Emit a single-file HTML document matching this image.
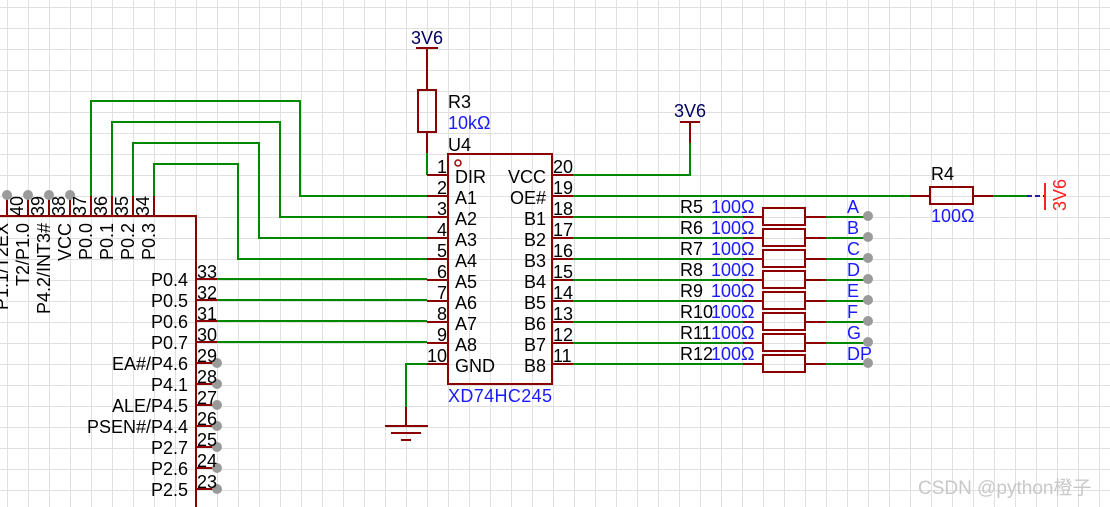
<!DOCTYPE html>
<html><head><meta charset="utf-8"><style>
html,body{margin:0;padding:0;background:#fff;}
svg{display:block;}
text{font-family:"Liberation Sans","Noto Sans CJK SC",sans-serif;}
</style></head><body>
<svg width="1110" height="507" viewBox="0 0 1110 507" xmlns="http://www.w3.org/2000/svg">
<defs>
<pattern id="g" x="7" y="7" width="21" height="21" patternUnits="userSpaceOnUse">
<path d="M0 0H21M0 0V21" stroke="#e0e0e0" stroke-width="2" fill="none"/>
</pattern>
</defs>
<rect width="1110" height="507" fill="url(#g)"/>

<!-- MCU body -->
<path d="M0 216H196V507" fill="none" stroke="#8b0000" stroke-width="2"/>
<g stroke="#8b0000" stroke-width="2">
<line x1="7" y1="196" x2="7" y2="216"/><line x1="28" y1="196" x2="28" y2="216"/>
<line x1="49" y1="196" x2="49" y2="216"/><line x1="70" y1="196" x2="70" y2="216"/>
<line x1="91" y1="196" x2="91" y2="216"/><line x1="112" y1="196" x2="112" y2="216"/>
<line x1="133" y1="196" x2="133" y2="216"/><line x1="154" y1="196" x2="154" y2="216"/>
</g>
<g fill="#9a9a9a"><circle cx="7" cy="195" r="5"/><circle cx="28" cy="195" r="5"/><circle cx="49" cy="195" r="5"/><circle cx="70" cy="195" r="5"/></g>
<g font-size="18" fill="#000">
<text transform="translate(23,216) rotate(-90)">40</text>
<text transform="translate(44,216) rotate(-90)">39</text>
<text transform="translate(65,216) rotate(-90)">38</text>
<text transform="translate(86,216) rotate(-90)">37</text>
<text transform="translate(107,216) rotate(-90)">36</text>
<text transform="translate(128,216) rotate(-90)">35</text>
<text transform="translate(149,216) rotate(-90)">34</text>
</g>
<g font-size="18" fill="#000" text-anchor="end">
<text transform="translate(8,223) rotate(-90)">P1.1/T2EX</text>
<text transform="translate(29,223) rotate(-90)">T2/P1.0</text>
<text transform="translate(50,223) rotate(-90)">P4.2/INT3#</text>
<text transform="translate(71,223) rotate(-90)">VCC</text>
<text transform="translate(92,223) rotate(-90)">P0.0</text>
<text transform="translate(113,223) rotate(-90)">P0.1</text>
<text transform="translate(134,223) rotate(-90)">P0.2</text>
<text transform="translate(155,223) rotate(-90)">P0.3</text>
</g>
<!-- right pins of MCU -->
<g stroke="#8b0000" stroke-width="2">
<line x1="196" y1="279" x2="217" y2="279"/><line x1="196" y1="300" x2="217" y2="300"/>
<line x1="196" y1="321" x2="217" y2="321"/><line x1="196" y1="342" x2="217" y2="342"/>
<line x1="196" y1="363" x2="217" y2="363"/><line x1="196" y1="384" x2="217" y2="384"/>
<line x1="196" y1="405" x2="217" y2="405"/><line x1="196" y1="426" x2="217" y2="426"/>
<line x1="196" y1="447" x2="217" y2="447"/><line x1="196" y1="468" x2="217" y2="468"/>
<line x1="196" y1="489" x2="217" y2="489"/>
</g>
<g fill="#9a9a9a"><circle cx="217" cy="363" r="5"/><circle cx="217" cy="384" r="5"/><circle cx="217" cy="405" r="5"/><circle cx="217" cy="426" r="5"/><circle cx="217" cy="447" r="5"/><circle cx="217" cy="468" r="5"/><circle cx="217" cy="489" r="5"/></g>
<g font-size="18" fill="#000">
<text x="197" y="278">33</text><text x="197" y="299">32</text><text x="197" y="320">31</text><text x="197" y="341">30</text>
<text x="197" y="362">29</text><text x="197" y="383">28</text><text x="197" y="404">27</text><text x="197" y="425">26</text>
<text x="197" y="446">25</text><text x="197" y="467">24</text><text x="197" y="488">23</text>
</g>
<g font-size="18" fill="#000" text-anchor="end">
<text x="188" y="286">P0.4</text><text x="188" y="307">P0.5</text><text x="188" y="328">P0.6</text><text x="188" y="349">P0.7</text>
<text x="188" y="370">EA#/P4.6</text><text x="188" y="391">P4.1</text><text x="188" y="412">ALE/P4.5</text><text x="188" y="433">PSEN#/P4.4</text>
<text x="188" y="454">P2.7</text><text x="188" y="475">P2.6</text><text x="188" y="496">P2.5</text>
</g>

<!-- green wires -->
<g stroke="#008800" stroke-width="2" fill="none">
<path d="M91 196V101H300V196H427"/>
<path d="M112 196V122H280V217H427"/>
<path d="M133 196V143H259V238H427"/>
<path d="M154 196V164H238V259H427"/>
<path d="M217 279H427M217 300H427M217 321H427M217 342H427"/>
<path d="M427 153V175"/>
<path d="M573 175H690V143"/>
<path d="M573 196H910M993 196H1027"/>
<path d="M427 364H406V407"/>
<path d="M573 217H743M573 238H743M573 259H743M573 280H743M573 301H743M573 322H743M573 343H743M573 364H743"/>
<path d="M826 217H868M826 238H868M826 259H868M826 280H868M826 301H868M826 322H868M826 343H868M826 364H868"/>
</g>

<!-- U4 -->
<rect x="448" y="154" width="104" height="230" fill="none" stroke="#8b0000" stroke-width="2"/>
<circle cx="458" cy="163" r="3" fill="none" stroke="#a00" stroke-width="1.5"/>
<g stroke="#8b0000" stroke-width="2">
<path d="M427 175H448M427 196H448M427 217H448M427 238H448M427 259H448M427 280H448M427 301H448M427 322H448M427 343H448M427 364H448"/>
<path d="M552 175H573M552 196H573M552 217H573M552 238H573M552 259H573M552 280H573M552 301H573M552 322H573M552 343H573M552 364H573"/>
</g>
<g font-size="18" fill="#000" text-anchor="end">
<text x="447" y="173">1</text><text x="447" y="194">2</text><text x="447" y="215">3</text><text x="447" y="236">4</text><text x="447" y="257">5</text>
<text x="447" y="278">6</text><text x="447" y="299">7</text><text x="447" y="320">8</text><text x="447" y="341">9</text><text x="447" y="362">10</text>
</g>
<g font-size="18" fill="#000">
<text x="553" y="173">20</text><text x="553" y="194">19</text><text x="553" y="215">18</text><text x="553" y="236">17</text><text x="553" y="257">16</text>
<text x="553" y="278">15</text><text x="553" y="299">14</text><text x="553" y="320">13</text><text x="553" y="341">12</text><text x="553" y="362">11</text>
</g>
<g font-size="18" fill="#000">
<text x="455" y="183">DIR</text><text x="455" y="204">A1</text><text x="455" y="225">A2</text><text x="455" y="246">A3</text><text x="455" y="267">A4</text>
<text x="455" y="288">A5</text><text x="455" y="309">A6</text><text x="455" y="330">A7</text><text x="455" y="351">A8</text><text x="455" y="372">GND</text>
</g>
<g font-size="18" fill="#000" text-anchor="end">
<text x="546" y="183">VCC</text><text x="546" y="204">OE#</text><text x="546" y="225">B1</text><text x="546" y="246">B2</text><text x="546" y="267">B3</text>
<text x="546" y="288">B4</text><text x="546" y="309">B5</text><text x="546" y="330">B6</text><text x="546" y="351">B7</text><text x="546" y="372">B8</text>
</g>
<text x="448" y="151" font-size="18" fill="#000">U4</text>
<text x="448" y="402" font-size="18" fill="#1a1aff" textLength="104">XD74HC245</text>

<!-- R3 + 3V6 -->
<g stroke="#8b0000" stroke-width="2" fill="none">
<path d="M416 48H438M427 48V90M427 132V153"/>
<rect x="418" y="90" width="18" height="42"/>
<path d="M680 122H700M690 122V143"/>
<path d="M385 426H428M391 433H421M401 440H411M406 407V426"/>
<path d="M910 196H930M973 196H993"/>
<rect x="930" y="187" width="43" height="17"/>
</g>
<text x="427" y="44" font-size="18" fill="#000060" text-anchor="middle">3V6</text>
<text x="448" y="108" font-size="18" fill="#000">R3</text>
<text x="448" y="129" font-size="18" fill="#1a1aff">10kΩ</text>
<text x="690" y="117" font-size="18" fill="#000060" text-anchor="middle">3V6</text>
<text x="931" y="180" font-size="18" fill="#000">R4</text>
<text x="931" y="222" font-size="18" fill="#1a1aff">100Ω</text>
<path d="M1027 196H1045" stroke="#2020a0" stroke-width="2" stroke-dasharray="5,3"/>
<path d="M1045 183V210" stroke="#ff2020" stroke-width="2"/>
<text transform="translate(1066,211) rotate(-90)" font-size="18" fill="#ff2020">3V6</text>

<!-- B resistors -->
<g stroke="#8b0000" stroke-width="2" fill="none">
<path d="M743 217H763M805 217H826M743 238H763M805 238H826M743 259H763M805 259H826M743 280H763M805 280H826M743 301H763M805 301H826M743 322H763M805 322H826M743 343H763M805 343H826M743 364H763M805 364H826"/>
<rect x="763" y="208" width="42" height="17"/><rect x="763" y="229" width="42" height="17"/>
<rect x="763" y="250" width="42" height="17"/><rect x="763" y="271" width="42" height="17"/>
<rect x="763" y="292" width="42" height="17"/><rect x="763" y="313" width="42" height="17"/>
<rect x="763" y="334" width="42" height="17"/><rect x="763" y="355" width="42" height="17"/>
</g>
<g fill="#9a9a9a"><circle cx="868" cy="216" r="5"/><circle cx="868" cy="237" r="5"/><circle cx="868" cy="258" r="5"/><circle cx="868" cy="279" r="5"/><circle cx="868" cy="300" r="5"/><circle cx="868" cy="321" r="5"/><circle cx="868" cy="342" r="5"/><circle cx="868" cy="363" r="5"/></g>
<g font-size="18" fill="#000">
<text x="680" y="213">R5</text><text x="680" y="234">R6</text><text x="680" y="255">R7</text><text x="680" y="276">R8</text>
<text x="680" y="297">R9</text><text x="680" y="318">R10</text><text x="680" y="339">R11</text><text x="680" y="360">R12</text>
</g>
<g font-size="18" fill="#1a1aff">
<text x="711" y="213">100Ω</text><text x="711" y="234">100Ω</text><text x="711" y="255">100Ω</text><text x="711" y="276">100Ω</text>
<text x="711" y="297">100Ω</text><text x="711" y="318">100Ω</text><text x="711" y="339">100Ω</text><text x="711" y="360">100Ω</text>
<text x="847" y="213">A</text><text x="847" y="234">B</text><text x="847" y="255">C</text><text x="847" y="276">D</text>
<text x="847" y="297">E</text><text x="847" y="318">F</text><text x="847" y="339">G</text><text x="847" y="360">DP</text>
</g>
<text x="918" y="494" font-size="19" fill="#c8c8c8">CSDN @python橙子</text>
</svg>
</body></html>
